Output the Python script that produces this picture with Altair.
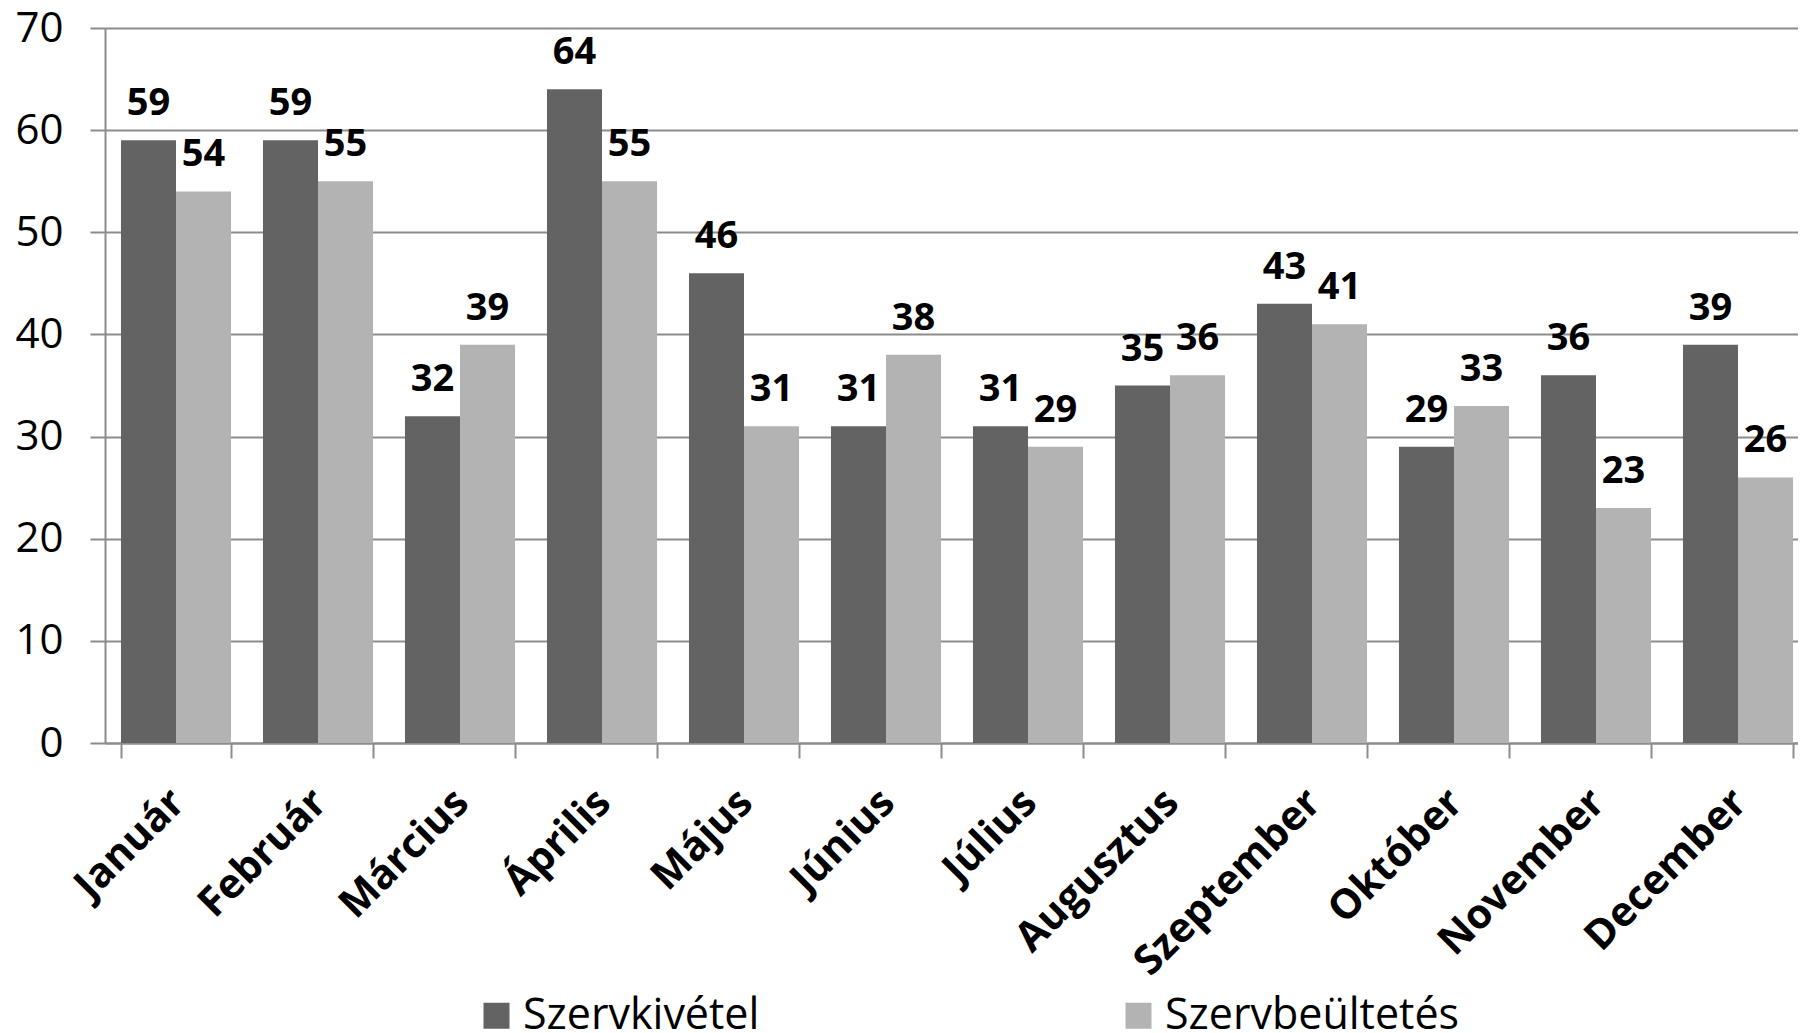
import altair as alt
import pandas as pd

months = ["Január", "Február", "Március", "Április", "Május", "Június",
          "Július", "Augusztus", "Szeptember", "Október", "November", "December"]
series = ["Szervkivétel", "Szervbeültetés"]
kivetel = [59, 59, 32, 64, 46, 31, 31, 35, 43, 29, 36, 39]
beultetes = [54, 55, 39, 55, 31, 38, 29, 36, 41, 33, 23, 26]
y_ticks = [0, 10, 20, 30, 40, 50, 60, 70]
colors = ["#636363", "#b3b3b3"]

rows = []
for m, a, b in zip(months, kivetel, beultetes):
    rows.append({"month": m, "series": series[0], "value": a})
    rows.append({"month": m, "series": series[1], "value": b})
df = pd.DataFrame(rows)

GRID = "#8c8c8c"

x_scale = alt.Scale(paddingInner=0.225, paddingOuter=0.1125, range=[0, 1704])

x_enc = alt.X(
    "month:N", sort=months, scale=x_scale,
    axis=alt.Axis(
        title=None, labelAngle=-45, labelAlign="right", labelBaseline="middle",
        labelFont="Open Sans", labelFontWeight="bold", labelFontSize=41,
        labelColor="black", labelPadding=38, labelOffset=2, labelLimit=500,
        labelOverlap=False, tickBand="extent", tickSize=15, tickWidth=2,
        tickColor=GRID, domainColor=GRID, domainWidth=2, grid=False,
    ),
)
xoff = alt.XOffset("series:N", sort=series,
                   scale=alt.Scale(paddingInner=0, paddingOuter=0))
y_enc = alt.Y(
    "value:Q",
    scale=alt.Scale(domain=[0, 70], nice=False, zero=True),
    axis=alt.Axis(
        title=None, values=y_ticks, grid=True, gridColor=GRID, gridWidth=2,
        domainColor=GRID, domainWidth=2, tickColor=GRID, tickSize=15, tickWidth=2,
        labelFont="Open Sans", labelFontSize=42, labelColor="black",
        labelPadding=27,
    ),
)

bars = alt.Chart(df).mark_bar().encode(
    x=x_enc, xOffset=xoff, y=y_enc,
    color=alt.Color(
        "series:N", sort=series,
        scale=alt.Scale(domain=series, range=colors),
        legend=alt.Legend(
            title=None, orient="none", direction="horizontal",
            legendX=370, legendY=966, padding=0,
            symbolType="square", symbolSize=676, symbolStrokeWidth=0,
            labelFont="Open Sans", labelFontSize=43, labelColor="black",
            labelOffset=5, columnPadding=357, labelLimit=600,
        ),
    ),
)

labels = alt.Chart(df).mark_text(
    dy=-25, baseline="alphabetic", align="center",
    font="Open Sans", fontWeight="bold", fontSize=38, color="black",
).encode(
    x=alt.X("month:N", sort=months, scale=x_scale), xOffset=xoff,
    y=alt.Y("value:Q"), text="value:Q",
)

chart = alt.layer(bars, labels).properties(
    width=1693, height=715,
    autosize=alt.AutoSizeParams(type="none"),
    padding={"left": 97, "top": 20, "right": 0, "bottom": 290},
).configure_view(stroke=None).configure(background="white")

chart.save("out.html", embed_options={"renderer": "svg", "actions": False})
